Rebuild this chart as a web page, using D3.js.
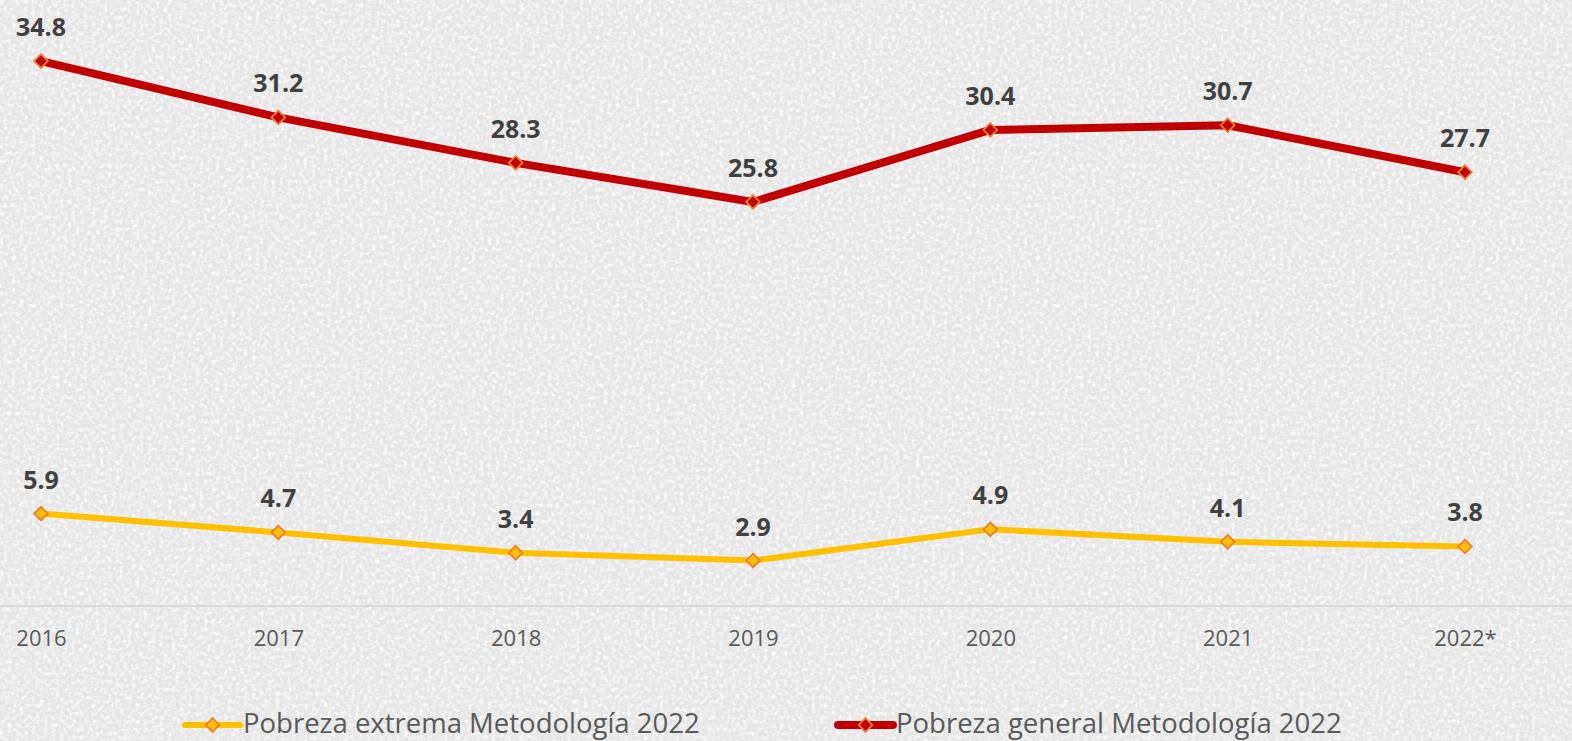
<!DOCTYPE html>
<html>
<head>
<meta charset="utf-8">
<script src="https://cdn.jsdelivr.net/npm/d3@7"></script>
<style>
  body { margin: 0; padding: 0; overflow: hidden; }
  svg { display: block; }
</style>
</head>
<body>
<svg id="chart"></svg>
<script>
// Data
const years = ["2016", "2017", "2018", "2019", "2020", "2021", "2022*"];
const extrema = [5.9, 4.7, 3.4, 2.9, 4.9, 4.1, 3.8];
const general = [34.8, 31.2, 28.3, 25.8, 30.4, 30.7, 27.7];
const seriesNames = ["Pobreza extrema Metodología 2022", "Pobreza general Metodología 2022"];

const width = 1572;
const height = 741;
const font = "'Open Sans', 'Noto Sans', sans-serif";

const svg = d3.select("#chart")
    .attr("width", width)
    .attr("height", height);

// Textured grey background
const defs = svg.append("defs");
const noise = defs.append("filter").attr("id", "noise")
    .attr("x", 0).attr("y", 0).attr("width", "100%").attr("height", "100%");
noise.append("feTurbulence")
    .attr("type", "fractalNoise")
    .attr("baseFrequency", 0.25)
    .attr("numOctaves", 3)
    .attr("seed", 4);
noise.append("feColorMatrix")
    .attr("type", "matrix")
    .attr("values", "0 0 0 0 1  0 0 0 0 1  0 0 0 0 1  0 0 0 -2.4 1.4");

svg.append("rect")
    .attr("width", width).attr("height", height)
    .attr("fill", "#e6e6e6");
svg.append("rect")
    .attr("width", width).attr("height", height)
    .attr("filter", "url(#noise)")
    .attr("opacity", 0.85);

// Scales
const x = d3.scalePoint()
    .domain(years)
    .range([41, 1465]);
const y = d3.scaleLinear()
    .domain([0, 35])
    .range([606, 57.9]);

// Axis line
svg.append("line")
    .attr("x1", 0).attr("x2", width)
    .attr("y1", y(0)).attr("y2", y(0))
    .attr("stroke", "#d9d9d9")
    .attr("stroke-width", 2);

// Bottom axis labels
const xAxis = svg.append("g")
    .attr("transform", `translate(0,${y(0)})`)
    .call(d3.axisBottom(x).tickSize(0).tickPadding(24));
xAxis.select(".domain").remove();
xAxis.selectAll("text")
    .style("font-family", font)
    .style("font-size", "22px")
    .attr("fill", "#595959");

const line = d3.line()
    .x((d, i) => x(years[i]))
    .y(d => y(d));

const series = [
    { values: extrema, color: "#ffc000", width: 6, label: seriesNames[0] },
    { values: general, color: "#c00000", width: 8, label: seriesNames[1] }
];

const diamond = d3.symbol().type(d3.symbolDiamond2).size(120);

series.forEach(s => {
    svg.append("path")
        .datum(s.values)
        .attr("d", line)
        .attr("fill", "none")
        .attr("stroke", s.color)
        .attr("stroke-width", s.width)
        .attr("stroke-linejoin", "round");

    svg.selectAll(null)
        .data(s.values)
        .enter().append("path")
        .attr("d", diamond)
        .attr("transform", (d, i) => `translate(${x(years[i])},${y(d)})`)
        .attr("fill", s.color)
        .attr("stroke", "#ed7d31")
        .attr("stroke-width", 1.8);

    svg.selectAll(null)
        .data(s.values)
        .enter().append("text")
        .attr("x", (d, i) => x(years[i]))
        .attr("y", d => y(d) - 25)
        .attr("text-anchor", "middle")
        .style("font-family", font)
        .style("font-size", "25px")
        .style("font-weight", "bold")
        .attr("fill", "#404040")
        .text(d => d.toFixed(1));
});

// Legend
const legendX = [185, 838];
const legend = svg.selectAll(".legend")
    .data(series)
    .enter().append("g")
    .attr("class", "legend")
    .attr("transform", (d, i) => `translate(${legendX[i]},725)`);

legend.append("line")
    .attr("x1", 0).attr("x2", 55)
    .attr("stroke", d => d.color)
    .attr("stroke-width", d => d.width)
    .attr("stroke-linecap", "round");
legend.append("path")
    .attr("d", diamond)
    .attr("transform", "translate(27.5,0)")
    .attr("fill", d => d.color)
    .attr("stroke", "#ed7d31")
    .attr("stroke-width", 1.8);
legend.append("text")
    .attr("x", 58)
    .attr("y", 8)
    .style("font-family", font)
    .style("font-size", "27.5px")
    .attr("fill", "#595959")
    .text(d => d.label);
</script>
</body>
</html>
